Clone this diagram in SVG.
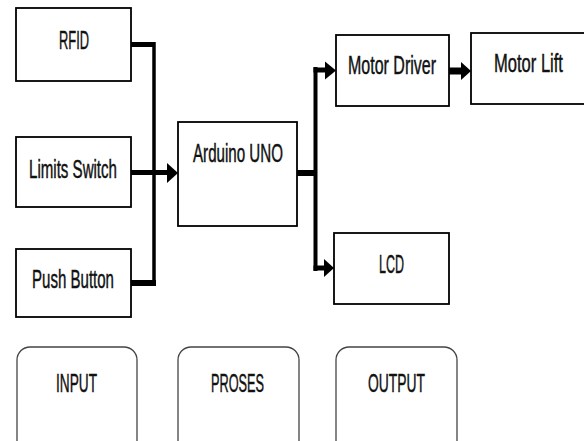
<svg xmlns="http://www.w3.org/2000/svg" width="584" height="441" viewBox="0 0 584 441">
<style>
.box{fill:#fff;stroke:#000;stroke-width:1.8}
.rbox{fill:#fff;stroke:#444;stroke-width:1.3}
.lbl{font-family:"Liberation Sans",Arial,sans-serif;font-size:25px;fill:#111;stroke:#111;stroke-width:0.45}
.w{fill:none;stroke:#000;stroke-linejoin:miter}
.ah{fill:#000}
</style>
<rect width="584" height="441" fill="#fff"/>
<g id="connectors">
<path class="w" d="M131,44.5 H154" stroke-width="5"/>
<path class="w" d="M154,42 V286" stroke-width="3.5"/>
<path class="w" d="M131,283 H156" stroke-width="6"/>
<path class="w" d="M131,172.5 H168" stroke-width="5"/>
<polygon class="ah" points="167,163 178,173 167,183"/>
<path class="w" d="M297,173 H317" stroke-width="6"/>
<path class="w" d="M315.5,67 V271" stroke-width="4"/>
<path class="w" d="M313.5,70 H326" stroke-width="5"/>
<polygon class="ah" points="325,61.5 336,70.5 325,79.5"/>
<path class="w" d="M313.5,268 H325" stroke-width="5"/>
<polygon class="ah" points="324,259 334,268 324,277"/>
<path class="w" d="M449,71 H463" stroke-width="7"/>
<polygon class="ah" points="461,62 471,71 461,80"/>
</g>
<g id="rfid"><rect class="box" x="16" y="8" width="115" height="73"/><text class="lbl" x="59" y="49" textLength="30" lengthAdjust="spacingAndGlyphs">RFID</text></g>
<g id="limits-switch"><rect class="box" x="16" y="137" width="115" height="70"/><text class="lbl" x="29" y="178" textLength="88" lengthAdjust="spacingAndGlyphs">Limits Switch</text></g>
<g id="push-button"><rect class="box" x="16" y="249" width="115" height="68"/><text class="lbl" x="32" y="288" textLength="82" lengthAdjust="spacingAndGlyphs">Push Button</text></g>
<g id="arduino"><rect class="box" x="178" y="122" width="119" height="104"/><text class="lbl" x="193" y="162" textLength="90" lengthAdjust="spacingAndGlyphs">Arduino UNO</text></g>
<g id="motor-driver"><rect class="box" x="336" y="35" width="113" height="71"/><text class="lbl" x="348" y="74" textLength="88" lengthAdjust="spacingAndGlyphs">Motor Driver</text></g>
<g id="motor-lift"><rect class="box" x="471" y="33" width="115" height="71"/><text class="lbl" transform="translate(494,72) scale(0.66,1)" x="0" y="0" textLength="104.5" lengthAdjust="spacingAndGlyphs">Motor Lift</text></g>
<g id="lcd"><rect class="box" x="334" y="233" width="115" height="71"/><text class="lbl" x="379" y="273" textLength="25" lengthAdjust="spacingAndGlyphs">LCD</text></g>
<g id="input"><rect class="rbox" x="17" y="347" width="120" height="110" rx="13"/><text class="lbl" x="56" y="392" textLength="41" lengthAdjust="spacingAndGlyphs">INPUT</text></g>
<g id="proses"><rect class="rbox" x="178" y="347" width="121" height="110" rx="13"/><text class="lbl" x="211" y="392" textLength="53" lengthAdjust="spacingAndGlyphs">PROSES</text></g>
<g id="output"><rect class="rbox" x="336" y="347" width="121" height="110" rx="13"/><text class="lbl" x="368" y="392" textLength="57" lengthAdjust="spacingAndGlyphs">OUTPUT</text></g>
</svg>
